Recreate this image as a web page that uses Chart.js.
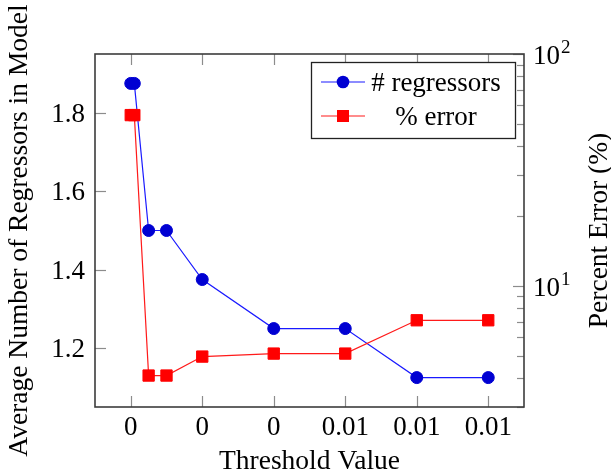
<!DOCTYPE html>
<html>
<head>
<meta charset="utf-8">
<script src="https://cdn.jsdelivr.net/npm/chart.js@4.4.0/dist/chart.umd.min.js"></script>
<style>
  html, body { margin: 0; padding: 0; background: #fff; }
  #wrap { width: 611px; height: 474px; }
</style>
</head>
<body>
<div id="wrap"><canvas id="chart" width="611" height="474"></canvas></div>
<script>
// threshold values on the x axis
const thresholds = [0, 0.0001, 0.0005, 0.001, 0.002, 0.004, 0.006, 0.008, 0.01];
// average number of regressors (left axis)
const regressors = [1.875, 1.875, 1.5, 1.5, 1.375, 1.25, 1.25, 1.125, 1.125];
// percent error (right axis, log scale)
const percentError = [54.5, 54.5, 4.1, 4.1, 4.95, 5.1, 5.1, 7.1, 7.1];

// tick values and labels
const xTickValues = [0, 0.002, 0.004, 0.006, 0.008, 0.01];
const xTickLabels = ['0', '0', '0', '0.01', '0.01', '0.01'];
const yTickValues = [1.2, 1.4, 1.6, 1.8];
const yTickLabels = ['1.2', '1.4', '1.6', '1.8'];
const y2MajorTicks = [10, 100];
const y2Exponents = ['1', '2'];
const y2MinorTicks = [3, 4, 5, 6, 7, 8, 9, 20, 30, 40, 50, 60, 70, 80, 90];

const FONT = '"Liberation Serif", "DejaVu Serif", serif';

function line(ctx, x1, y1, x2, y2) {
  ctx.beginPath();
  ctx.moveTo(x1, y1);
  ctx.lineTo(x2, y2);
  ctx.stroke();
}

// dibuja marco, ticks hacia dentro, etiquetas, titulos y leyenda
const axesPlugin = {
  id: 'pgfAxes',
  afterDraw(chart) {
    const { ctx, chartArea: a, scales } = chart;
    ctx.save();

    // ticks
    ctx.strokeStyle = '#8c8c8c';
    ctx.lineWidth = 1.2;
    xTickValues.forEach(v => {
      const px = Math.round(scales.x.getPixelForValue(v)) + 0.5;
      line(ctx, px, a.bottom, px, a.bottom - 11);
      line(ctx, px, a.top, px, a.top + 11);
    });
    yTickValues.forEach(v => {
      const py = Math.round(scales.y.getPixelForValue(v)) + 0.5;
      line(ctx, a.left, py, a.left + 11, py);
    });
    y2MajorTicks.forEach(v => {
      const py = Math.round(scales.y2.getPixelForValue(v)) + 0.5;
      line(ctx, a.right, py, a.right - 11, py);
    });
    y2MinorTicks.forEach(v => {
      const py = Math.round(scales.y2.getPixelForValue(v)) + 0.5;
      line(ctx, a.right, py, a.right - 7, py);
    });

    // marco
    ctx.strokeStyle = '#3c3c3c';
    ctx.lineWidth = 1.6;
    ctx.strokeRect(a.left, a.top, a.right - a.left, a.bottom - a.top);

    // etiquetas de los ejes
    ctx.fillStyle = '#000';
    ctx.font = '27px ' + FONT;
    ctx.textBaseline = 'alphabetic';
    ctx.textAlign = 'center';
    xTickValues.forEach((v, i) => {
      ctx.fillText(xTickLabels[i], scales.x.getPixelForValue(v), a.bottom + 28);
    });
    ctx.textAlign = 'right';
    yTickValues.forEach((v, i) => {
      ctx.fillText(yTickLabels[i], a.left - 10, scales.y.getPixelForValue(v) + 9);
    });
    ctx.textAlign = 'left';
    y2MajorTicks.forEach((v, i) => {
      const py = scales.y2.getPixelForValue(v);
      ctx.font = '27px ' + FONT;
      ctx.fillText('10', a.right + 9, py + 10);
      const w = ctx.measureText('10').width;
      ctx.font = '19px ' + FONT;
      ctx.fillText(y2Exponents[i], a.right + 10 + w, py - 1);
    });

    // titulos
    ctx.font = '27.5px ' + FONT;
    ctx.textAlign = 'center';
    ctx.fillText('Threshold Value', (a.left + a.right) / 2, 469);
    const midY = (a.top + a.bottom) / 2;
    ctx.save();
    ctx.translate(27, midY);
    ctx.rotate(-Math.PI / 2);
    ctx.fillText('Average Number of Regressors in Model', 0, 0);
    ctx.restore();
    ctx.save();
    ctx.translate(607, midY);
    ctx.rotate(-Math.PI / 2);
    ctx.fillText('Percent Error (%)', 0, 0);
    ctx.restore();

    // leyenda
    const lx = 311, ly = 62, lw = 204, lh = 76;
    ctx.fillStyle = '#fff';
    ctx.fillRect(lx, ly, lw, lh);
    ctx.strokeStyle = '#222';
    ctx.lineWidth = 1.3;
    ctx.strokeRect(lx + 0.5, ly + 0.5, lw, lh);
    chart.data.datasets.forEach(ds => {
      const cy = ds.legendRow === 0 ? 82 : 116;
      ctx.strokeStyle = ds.borderColor;
      ctx.lineWidth = 1.2;
      line(ctx, 321, cy, 365, cy);
      ctx.fillStyle = ds.pointBackgroundColor;
      if (ds.pointStyle === 'circle') {
        ctx.beginPath();
        ctx.arc(343, cy, 6.3, 0, Math.PI * 2);
        ctx.fill();
      } else {
        ctx.fillRect(337, cy - 6, 12, 12);
      }
      ctx.fillStyle = '#000';
      ctx.font = '27px ' + FONT;
      ctx.textAlign = 'center';
      ctx.fillText(ds.label, 436, cy + 9);
    });

    ctx.restore();
  }
};

new Chart(document.getElementById('chart'), {
  type: 'line',
  data: {
    datasets: [
      {
        label: '# regressors',
        legendRow: 0,
        data: thresholds.map((t, i) => ({ x: t, y: regressors[i] })),
        yAxisID: 'y',
        borderColor: '#1a1aff',
        borderWidth: 1.2,
        pointStyle: 'circle',
        pointRadius: 6,
        pointBackgroundColor: '#0000d2',
        pointBorderColor: '#0000d2',
        pointBorderWidth: 1,
        tension: 0,
        order: 2
      },
      {
        label: '% error',
        legendRow: 1,
        data: thresholds.map((t, i) => ({ x: t, y: percentError[i] })),
        yAxisID: 'y2',
        borderColor: '#ff1a1a',
        borderWidth: 1.2,
        pointStyle: 'rect',
        pointRadius: 8,
        pointBackgroundColor: '#ff0000',
        pointBorderColor: '#ff0000',
        pointBorderWidth: 1,
        tension: 0,
        order: 1
      }
    ]
  },
  options: {
    responsive: false,
    animation: false,
    devicePixelRatio: 1,
    layout: { padding: { left: 95, top: 54, right: 87, bottom: 67 } },
    plugins: { legend: { display: false }, tooltip: { enabled: false } },
    scales: {
      x: { type: 'linear', min: -0.001, max: 0.011, display: false },
      y: { type: 'linear', min: 1.05, max: 1.95, display: false },
      y2: { type: 'logarithmic', min: 3, max: 100, display: false, position: 'right' }
    }
  },
  plugins: [axesPlugin]
});
</script>
</body>
</html>
